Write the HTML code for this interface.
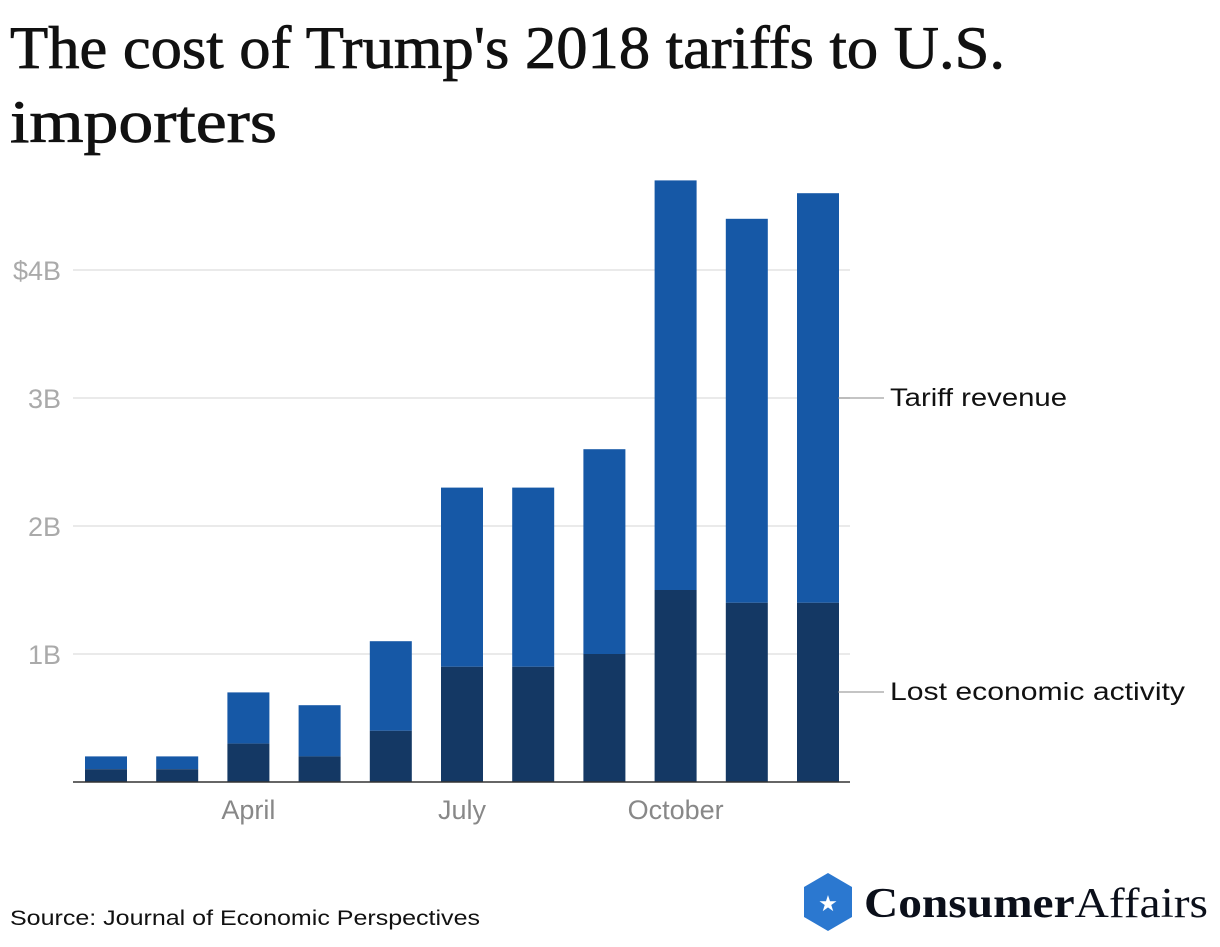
<!DOCTYPE html>
<html><head><meta charset="utf-8"><style>
body{margin:0;width:1220px;height:942px;background:#fff;overflow:hidden;font-family:"Liberation Sans",sans-serif}
</style></head><body>
<svg width="1220" height="942">
<text x="10" y="68" font-family="Liberation Serif, serif" font-size="60" fill="#111" stroke="#111" stroke-width="0.8" textLength="995" lengthAdjust="spacingAndGlyphs">The cost of Trump's 2018 tariffs to U.S.</text>
<text x="10" y="142" font-family="Liberation Serif, serif" font-size="60" fill="#111" stroke="#111" stroke-width="0.8" textLength="267" lengthAdjust="spacingAndGlyphs">importers</text>
<g id="grid"></g><g id="bars"></g><g id="xlabels"></g>
<line x1="73" x2="850" y1="782" y2="782" stroke="#333" stroke-width="1.5"/>
<line x1="838" x2="884" y1="398" y2="398" stroke="#888"/>
<text x="890" y="406" font-size="25" fill="#111" textLength="177" lengthAdjust="spacingAndGlyphs">Tariff revenue</text>
<line x1="838" x2="884" y1="692" y2="692" stroke="#888"/>
<text x="890" y="700" font-size="25" fill="#111" textLength="295" lengthAdjust="spacingAndGlyphs">Lost economic activity</text>
<text x="10" y="925" font-size="21" fill="#111" textLength="470" lengthAdjust="spacingAndGlyphs">Source: Journal of Economic Perspectives</text>
<g>
<polygon points="828,873 852,887 852,917 828,931 804,917 804,887" fill="#2b78d0"/>
<text x="828" y="911" font-size="22" fill="#fff" text-anchor="middle">★</text>
<text x="864" y="917" font-family="Liberation Serif, serif" font-size="42" fill="#0b0f1a" textLength="344" lengthAdjust="spacingAndGlyphs"><tspan font-weight="bold">Consumer</tspan><tspan>Affairs</tspan></text>
</g>
</svg>
<script>
const categories=["Feb","Mar","Apr","May","Jun","Jul","Aug","Sep","Oct","Nov","Dec"];
const lostActivity=[0.1,0.1,0.3,0.2,0.4,0.9,0.9,1.0,1.5,1.4,1.4];
const totalCost=[0.2,0.2,0.7,0.6,1.1,2.3,2.3,2.6,4.7,4.4,4.6];
const yTicks=[1,2,3,4];
const yTickLabels=["1B","2B","3B","$4B"];
const xLabelIdx=[2,5,8];
const xLabels=["April","July","October"];
const NS="http://www.w3.org/2000/svg";
const y=v=>782-v*128;
const step=71.2,x0=106,bw=42;
const x=i=>x0+i*step;
function mk(t,a,p){const e=document.createElementNS(NS,t);for(const k in a)e.setAttribute(k,a[k]);p.appendChild(e);return e;}
const g=document.getElementById('grid');
yTicks.forEach((v,i)=>{
 const l=mk('line',{x1:73,x2:850,y1:y(v),y2:y(v),stroke:'#e3e3e3','stroke-width':1.5},g);
 
 
 const t=mk('text',{x:61,y:y(v)+10,'font-size':27,fill:'#aaa','text-anchor':'end'},g);
 t.textContent=yTickLabels[i];
 
 
});
const b=document.getElementById('bars');
categories.forEach((c,i)=>{
 const r1=mk('rect',{x:x(i)-bw/2,y:y(totalCost[i]),width:bw,height:y(lostActivity[i])-y(totalCost[i]),fill:'#1658a6'},b);
 
 
 const r2=mk('rect',{x:x(i)-bw/2,y:y(lostActivity[i]),width:bw,height:782-y(lostActivity[i]),fill:'#143864'},b);
 
 
});
const xl=document.getElementById('xlabels');
xLabelIdx.forEach((idx,i)=>{
 const t=mk('text',{x:x(idx),y:819,'font-size':27,fill:'#888','text-anchor':'middle'},xl);
 t.textContent=xLabels[i];
 
 
});
</script>
</body></html>
